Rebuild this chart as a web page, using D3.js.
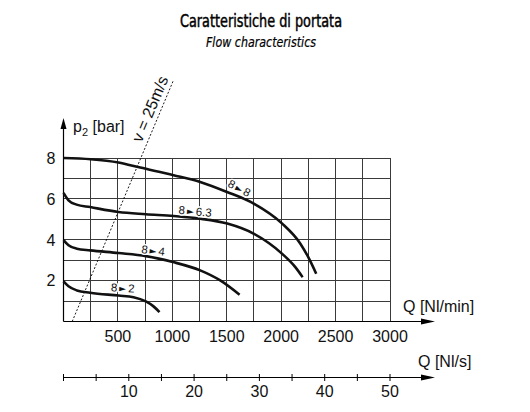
<!DOCTYPE html>
<html>
<head>
<meta charset="utf-8">
<script src="https://cdn.jsdelivr.net/npm/d3@7"></script>
<style>
  html, body { margin: 0; padding: 0; background: #fff; }
  svg { display: block; font-family: "Liberation Sans", Arial, Helvetica, sans-serif; }
</style>
</head>
<body>
<svg id="chart" width="530" height="412"></svg>
<script>
// Flow characteristics of a pressure regulator: p2 [bar] vs Q [Nl/min]
const TITLE = "Caratteristiche di portata";
const SUBTITLE = "Flow characteristics";

const Q_MIN_TICKS = [500, 1000, 1500, 2000, 2500, 3000];
const Q_S_LABELS = [10, 20, 30, 40, 50];
const P_TICKS = [2, 4, 6, 8];

// curves: [Q Nl/min, p2 bar]
const CURVE_8_8 = [
  [0, 8.0], [250, 7.94], [505, 7.78], [705, 7.53], [1011, 7.16], [1256, 6.83],
  [1502, 6.34], [1744, 5.78], [2007, 4.8], [2175, 3.82], [2249, 3.15], [2322, 2.34],
];
const CURVE_8_63 = [
  [0, 6.29], [46, 5.93], [120, 5.72], [245, 5.6], [505, 5.36], [757, 5.25],
  [1011, 5.16], [1256, 5.03], [1505, 4.79], [1746, 4.3], [2007, 3.32],
  [2130, 2.66], [2197, 2.17],
];
const CURVE_8_4 = [
  [0, 3.98], [46, 3.73], [123, 3.56], [245, 3.48], [505, 3.35], [757, 3.2],
  [1005, 2.91], [1256, 2.5], [1440, 2.01], [1618, 1.31],
];
const CURVE_8_2 = [
  [0, 1.96], [46, 1.72], [123, 1.52], [245, 1.41], [505, 1.27], [643, 1.19],
  [757, 0.98], [827, 0.74], [882, 0.46],
];
const CURVES = [CURVE_8_8, CURVE_8_63, CURVE_8_4, CURVE_8_2];

// "8 ► x" tags: inlet, outlet, anchor in data units, tilt in degrees
const CURVE_LABELS = [
  { from: "8", to: "8", q: 1615, p: 6.52, angle: 28 },
  { from: "8", to: "6.3", q: 1210, p: 5.39, angle: 5 },
  { from: "8", to: "4", q: 824, p: 3.48, angle: 7 },
  { from: "8", to: "2", q: 544, p: 1.64, angle: 3 },
];

// v = 25 m/s reference line, [Q, p]
const VELOCITY_LINE = [[80, 0], [1010, 11.8]];
const VELOCITY_TEXT = "v = 25m/s";
const VELOCITY_TEXT_AT = 8.63; // bar along the line

const svg = d3.select("#chart");

const x = d3.scaleLinear().domain([0, 3000]).range([63.5, 390]);
const y = d3.scaleLinear().domain([0, 8]).range([321.5, 158]);
const xs = d3.scaleLinear().domain([0, 50]).range([63.5, 390]);
const axisY2 = 377.5;
const arrowEnd = 435;

// titles
svg.append("text")
  .attr("x", 261).attr("y", 27)
  .attr("text-anchor", "middle")
  .attr("font-family", "'Liberation Sans Narrow','DejaVu Sans Condensed','Liberation Sans',sans-serif")
  .attr("font-size", 17)
  .attr("stroke", "#000").attr("stroke-width", 0.45)
  .attr("textLength", 162).attr("lengthAdjust", "spacingAndGlyphs")
  .text(TITLE);

svg.append("text")
  .attr("x", 261).attr("y", 46.5)
  .attr("text-anchor", "middle")
  .attr("font-family", "'Liberation Sans Narrow','DejaVu Sans Condensed','Liberation Sans',sans-serif")
  .attr("font-size", 14).attr("font-style", "italic")
  .attr("stroke", "#000").attr("stroke-width", 0.2)
  .attr("textLength", 110).attr("lengthAdjust", "spacingAndGlyphs")
  .text(SUBTITLE);

// grid
const grid = svg.append("g").attr("stroke", "#3a3a3a").attr("stroke-width", 1).attr("shape-rendering", "crispEdges");
grid.selectAll("line.v")
  .data(d3.range(250, 3001, 250))
  .join("line")
  .attr("x1", (d) => x(d)).attr("x2", (d) => x(d))
  .attr("y1", y(0)).attr("y2", y(8));
grid.selectAll("line.h")
  .data(d3.range(1, 9, 1))
  .join("line")
  .attr("x1", x(0)).attr("x2", x(3000))
  .attr("y1", (d) => y(d)).attr("y2", (d) => y(d));

// axes with arrows
const ax = svg.append("g").attr("stroke", "#000").attr("stroke-width", 1.2);
ax.append("line").attr("x1", x(0)).attr("x2", x(0)).attr("y1", y(0)).attr("y2", 126);
ax.append("line").attr("x1", x(0)).attr("x2", arrowEnd - 8).attr("y1", y(0)).attr("y2", y(0));
ax.append("line").attr("x1", xs(0)).attr("x2", arrowEnd - 8).attr("y1", axisY2).attr("y2", axisY2);

const arrows = svg.append("g").attr("fill", "#000");
arrows.append("path")
  .attr("d", `M${x(0)},118 L${x(0) - 3},129 L${x(0) + 3},129 Z`);
arrows.append("path")
  .attr("d", `M${arrowEnd},${y(0)} L${arrowEnd - 14},${y(0) - 3} L${arrowEnd - 14},${y(0) + 3} Z`);
arrows.append("path")
  .attr("d", `M${arrowEnd},${axisY2} L${arrowEnd - 14},${axisY2 - 3} L${arrowEnd - 14},${axisY2 + 3} Z`);

// Nl/s ticks
svg.append("g").attr("stroke", "#000").attr("stroke-width", 1)
  .selectAll("line")
  .data(d3.range(0, 51, 5))
  .join("line")
  .attr("x1", (d) => xs(d)).attr("x2", (d) => xs(d))
  .attr("y1", axisY2 - 3.5).attr("y2", axisY2 + 3.5);

// tick labels
const labels = svg.append("g").attr("font-size", 16).attr("fill", "#111");
labels.selectAll("text.q")
  .data(Q_MIN_TICKS)
  .join("text")
  .attr("x", (d) => x(d)).attr("y", 341.5)
  .attr("text-anchor", "middle")
  .text((d) => d);
labels.selectAll("text.qs")
  .data(Q_S_LABELS)
  .join("text")
  .attr("x", (d) => xs(d)).attr("y", 396.5)
  .attr("text-anchor", "middle")
  .text((d) => d);
labels.selectAll("text.p")
  .data(P_TICKS)
  .join("text")
  .attr("x", 55.5).attr("y", (d) => y(d) + 5.8)
  .attr("text-anchor", "end")
  .text((d) => d);

labels.append("text").attr("x", 403).attr("y", 311.5).text("Q [Nl/min]");
labels.append("text").attr("x", 418).attr("y", 367).text("Q [Nl/s]");
const pLab = labels.append("text").attr("x", 73).attr("y", 131.5);
pLab.append("tspan").text("p");
pLab.append("tspan").attr("font-size", 11).attr("dy", 4).text("2");
pLab.append("tspan").attr("dy", -4).attr("dx", 4.5).text("[bar]");

// velocity line
const vPath = d3.line().x((d) => x(d[0])).y((d) => y(d[1]));
svg.append("path")
  .datum(VELOCITY_LINE)
  .attr("d", vPath)
  .attr("fill", "none").attr("stroke", "#000")
  .attr("stroke-width", 0.9).attr("stroke-dasharray", "2,1.8");

const [v0, v1] = VELOCITY_LINE;
const vAngle = Math.atan2(y(v1[1]) - y(v0[1]), x(v1[0]) - x(v0[0])) * 180 / Math.PI;
const vt = VELOCITY_TEXT_AT / v1[1];
const vq = v0[0] + vt * (v1[0] - v0[0]);
svg.append("text")
  .attr("transform", `translate(${x(vq)},${y(VELOCITY_TEXT_AT)}) rotate(${vAngle})`)
  .attr("dy", -5)
  .attr("font-size", 16)
  .attr("fill", "#111")
  .text(VELOCITY_TEXT);

// flow curves
const line = d3.line()
  .x((d) => x(d[0]))
  .y((d) => y(d[1]))
  .curve(d3.curveMonotoneX);
svg.append("g")
  .selectAll("path")
  .data(CURVES)
  .join("path")
  .attr("d", line)
  .attr("fill", "none")
  .attr("stroke", "#111")
  .attr("stroke-width", 2.6)
  .attr("stroke-linecap", "butt");

// curve tags
const tags = svg.append("g")
  .selectAll("text")
  .data(CURVE_LABELS)
  .join("text")
  .attr("transform", (d) => `translate(${x(d.q)},${y(d.p)}) rotate(${d.angle})`)
  .attr("text-anchor", "middle")
  .attr("dy", 4)
  .attr("font-size", 11.5)
  .attr("fill", "#111")
  .attr("stroke", "#fff").attr("stroke-width", 3)
  .attr("stroke-linejoin", "round")
  .attr("paint-order", "stroke");
tags.append("tspan").text((d) => d.from);
tags.append("tspan").attr("dx", 2)
  .attr("font-family", "'DejaVu Sans',sans-serif")
  .attr("font-size", 9).attr("dy", -0.5).text("\u25BA");
tags.append("tspan").attr("dx", 2).attr("dy", 0.5).text((d) => d.to);
</script>
</body>
</html>
